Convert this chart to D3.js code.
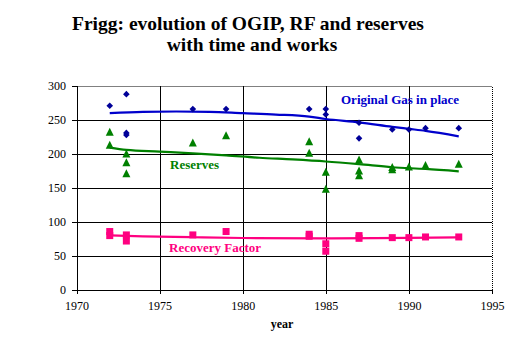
<!DOCTYPE html>
<html>
<head>
<meta charset="utf-8">
<script src="https://cdn.jsdelivr.net/npm/d3@7"></script>
<style>
  body { margin: 0; background: #fff; }
  svg text { font-family: "Liberation Serif", "Times New Roman", serif; }
</style>
</head>
<body>
<svg id="chart" width="526" height="363"></svg>
<script>
// measured points (year, value)
let ogipYears  = [1972, 1973, 1973, 1973, 1977, 1979, 1984, 1985, 1985, 1987, 1987, 1989, 1990, 1991, 1993];
let ogipValues = [271, 288, 231, 228, 266, 266, 266, 266, 258, 246, 223, 236, 236, 238, 238];

let resYears  = [1972, 1972, 1973, 1973, 1973, 1977, 1979, 1984, 1984, 1985, 1985, 1987, 1987, 1987, 1989, 1989, 1990, 1991, 1993];
let resValues = [232, 213, 200, 187, 171, 216, 227, 218, 201, 173, 148, 191, 175, 168, 180, 177, 181, 183, 185];

let rfYears  = [1972, 1972, 1973, 1973, 1977, 1979, 1984, 1984, 1985, 1985, 1987, 1987, 1989, 1990, 1991, 1993];
let rfValues = [86, 80, 81, 72, 81, 86, 82, 79, 68, 57, 80, 76, 77, 77, 78, 78];

// trend curves
let ogipTrendYears  = [1972, 1974, 1976, 1978, 1980, 1982, 1984, 1985, 1987, 1989, 1990, 1991, 1993];
let ogipTrendValues = [260, 262, 262.5, 262, 260, 258, 255, 251.5, 246.5, 240, 237, 234, 226];

let resTrendYears  = [1972, 1973, 1975, 1977, 1979, 1981, 1983, 1985, 1987, 1989, 1991, 1993];
let resTrendValues = [209.5, 206, 203.5, 201, 198, 194.5, 192, 189, 185, 180.5, 178, 174.5];

let rfTrendYears  = [1972, 1974, 1977, 1980, 1985, 1988, 1990, 1993];
let rfTrendValues = [80.3, 79, 77.6, 76.5, 76, 76.2, 76.6, 77.5];

let xTicks = [1970, 1975, 1980, 1985, 1990, 1995];
let yTicks = [0, 50, 100, 150, 200, 250, 300];

let margin = { top: 86, right: 34, bottom: 73, left: 76.5 };
let width = 526, height = 363;
let serif = "'Liberation Serif', 'Times New Roman', serif";

let svg = d3.select("#chart");

let x = d3.scaleLinear().domain([1970, 1995]).range([margin.left, width - margin.right]);
let y = d3.scaleLinear().domain([0, 300]).range([height - margin.bottom, margin.top]);

// title
svg.append("text").attr("x", 248).attr("y", 30).attr("text-anchor", "middle")
    .attr("font-size", 19.5).attr("font-weight", "bold").text("Frigg: evolution of OGIP, RF and reserves");
svg.append("text").attr("x", 252).attr("y", 51).attr("text-anchor", "middle")
    .attr("font-size", 19.5).attr("font-weight", "bold").text("with time and works");

// grid
let grid = svg.append("g");
grid.selectAll(".hg").data(yTicks.slice(1, -1)).enter().append("line")
    .attr("x1", x(1970)).attr("x2", x(1995))
    .attr("y1", d => Math.round(y(d)) + 0.5).attr("y2", d => Math.round(y(d)) + 0.5)
    .attr("stroke", "black");
grid.selectAll(".vg").data(xTicks.slice(1, -1)).enter().append("line")
    .attr("y1", y(0)).attr("y2", y(300))
    .attr("x1", d => Math.round(x(d)) + 0.5).attr("x2", d => Math.round(x(d)) + 0.5)
    .attr("stroke", "black");

// dotted top and right border
grid.append("line").attr("x1", x(1970)).attr("x2", x(1995))
    .attr("y1", Math.round(y(300)) + 0.5).attr("y2", Math.round(y(300)) + 0.5)
    .attr("stroke", "black").attr("stroke-dasharray", "1,1");
grid.append("line").attr("y1", y(0)).attr("y2", y(300))
    .attr("x1", Math.round(x(1995)) + 0.5).attr("x2", Math.round(x(1995)) + 0.5)
    .attr("stroke", "black").attr("stroke-dasharray", "1,1");

// axes
let xAxis = d3.axisBottom(x).tickValues(xTicks).tickFormat(d3.format("d")).tickSize(4);
let yAxis = d3.axisLeft(y).tickValues(yTicks).tickSize(5);

let gx = svg.append("g").attr("transform", "translate(0," + Math.round(y(0)) + ")").call(xAxis);
let gy = svg.append("g").attr("transform", "translate(" + Math.round(x(1970)) + ",0)").call(yAxis);

[gx, gy].forEach(g => {
    g.attr("font-family", null);
    g.selectAll("path, line").attr("stroke", "black").attr("shape-rendering", "crispEdges");
    g.selectAll("text").style("font-family", serif).attr("font-size", 12).attr("fill", "black");
});
gx.select(".domain").attr("d", "M" + x(1970) + ",0.5H" + x(1995));
gx.selectAll("text").attr("dy", "1.1em");
gy.selectAll("text").attr("x", -11);

svg.append("text").attr("x", 282).attr("y", 328).attr("text-anchor", "middle")
    .attr("font-size", 12).attr("font-weight", "bold").text("year");

// trend lines
let line = d3.line().x(d => x(d[0])).y(d => y(d[1])).curve(d3.curveMonotoneX);

svg.append("path").datum(d3.zip(ogipTrendYears, ogipTrendValues))
    .attr("d", line).attr("fill", "none").attr("stroke", "#0000cc").attr("stroke-width", 2.2);
svg.append("path").datum(d3.zip(resTrendYears, resTrendValues))
    .attr("d", line).attr("fill", "none").attr("stroke", "#008000").attr("stroke-width", 2.2);
svg.append("path").datum(d3.zip(rfTrendYears, rfTrendValues))
    .attr("d", line).attr("fill", "none").attr("stroke", "#ff0080").attr("stroke-width", 2.2);

// markers
svg.selectAll(".ogip").data(d3.zip(ogipYears, ogipValues)).enter().append("path")
    .attr("d", "M0,-3.3L3.3,0L0,3.3L-3.3,0Z")
    .attr("transform", d => "translate(" + x(d[0]) + "," + y(d[1]) + ")")
    .attr("fill", "#000099");

svg.selectAll(".res").data(d3.zip(resYears, resValues)).enter().append("path")
    .attr("d", "M0,-4.5L4,3.5L-4,3.5Z")
    .attr("transform", d => "translate(" + x(d[0]) + "," + y(d[1]) + ")")
    .attr("fill", "#008000");

svg.selectAll(".rf").data(d3.zip(rfYears, rfValues)).enter().append("rect")
    .attr("x", d => x(d[0]) - 3.5).attr("y", d => y(d[1]) - 3.5)
    .attr("width", 7).attr("height", 7)
    .attr("fill", "#ff0080");

// series labels
svg.append("text").attr("x", 341).attr("y", 104).attr("font-size", 13).attr("font-weight", "bold")
    .attr("fill", "#0000cc").text("Original Gas in place");
svg.append("text").attr("x", 170).attr("y", 169).attr("font-size", 13).attr("font-weight", "bold")
    .attr("fill", "#008000").text("Reserves");
svg.append("text").attr("x", 169).attr("y", 252).attr("font-size", 13).attr("font-weight", "bold")
    .attr("fill", "#ff0080").text("Recovery Factor");
</script>
</body>
</html>
